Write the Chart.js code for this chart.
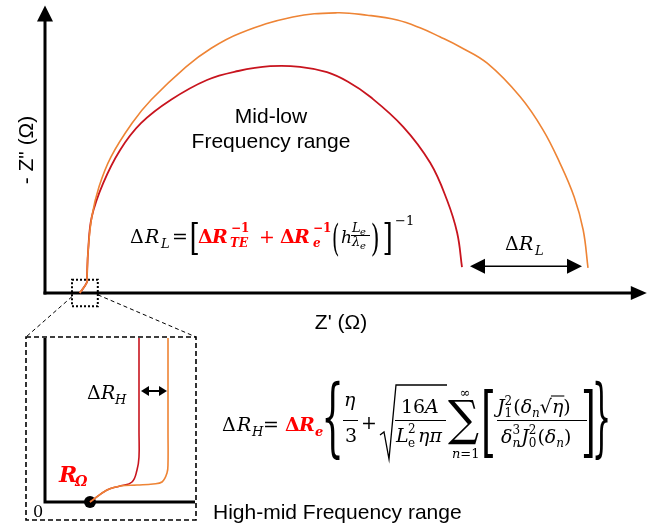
<!DOCTYPE html>
<html><head><meta charset="utf-8">
<script src="https://cdn.jsdelivr.net/npm/chart.js@4/dist/chart.umd.min.js"></script>
<style>html,body{margin:0;padding:0;background:#fff;overflow:hidden}canvas{display:block}</style>
</head><body>
<canvas id="c" width="661" height="527"></canvas>
<script>
// ---- Main Nyquist view (arbitrary Ω units): Z' and -Z'' ----
const redZre    = [5.8, 7.0, 7.0, 7.2, 7.8, 9.7, 12.5, 16.0, 21.0, 27.0, 32.2, 37.5, 42.5, 47.0, 50.5, 54.2, 59.7, 64.2, 67.0, 68.7, 69.5];
const redZim    = [0.0, 1.8, 2.7, 7.2, 12.7, 18.3, 23.8, 28.3, 32.2, 35.5, 37.0, 37.8, 37.7, 36.8, 35.2, 32.7, 27.7, 21.7, 15.5, 10.0, 4.3];
const orangeZre = [5.8, 7.0, 7.0, 7.2, 7.8, 9.0, 11.0, 14.5, 17.7, 23.5, 27.7, 32.5, 41.3, 48.7, 53.7, 58.7, 62.5, 65.8, 69.2, 73.7, 79.2, 83.0, 85.8, 88.2, 89.7, 90.5];
const orangeZim = [0.0, 1.8, 2.7, 7.2, 12.7, 17.7, 22.7, 28.3, 32.2, 37.7, 40.8, 43.3, 46.0, 46.7, 46.3, 45.5, 44.2, 42.7, 41.0, 38.3, 32.7, 27.2, 21.7, 16.0, 10.5, 4.2];
// ---- Inset: high-mid frequency zoom ----
const insetRedZre    = [9.0, 12.4, 15.0, 17.4, 18.4, 18.8, 18.8, 18.8];
const insetRedZim    = [0.0, 2.4, 3.2, 4.0, 6.4, 9.0, 14.0, 32.8];
const insetOrangeZre = [9.0, 12.4, 15.0, 18.4, 21.6, 23.4, 24.4, 24.6, 24.6, 24.6];
const insetOrangeZim = [0.0, 2.4, 3.2, 3.4, 3.6, 4.0, 5.8, 7.8, 14.0, 32.8];
const rOhmZre = [9.0];
const rOhmZim = [0.0];
// ---- Text ----
const axisTitleX = "Z' (Ω)";
const axisTitleY = '- Z" (Ω)';
const regionLow  = ['Mid-low', 'Frequency range'];
const regionHigh = 'High-mid Frequency range';

// ---- layout ----
const W = 661, H = 527;
const MAIN_O = {px: 45, py: 293}, MAIN_K = 6;
const INS_O = {px: 45, py: 502}, INS_K = 5;
const MAIN_X_END = 100.3, MAIN_Y_END = 47.9;
const INS_X_END = 30, INS_Y_END = 32.8;
const RED = '#C8141E', ORANGE = '#EE8435', TRED = '#FF0000';
const SERIF = '"DejaVu Serif"';
const SANS = '"Liberation Sans", Arial, sans-serif';

const pts = (xs, ys) => xs.map((x, i) => ({x, y: ys[i]}));

function head(ctx, tx, ty, dx, dy, len, half) {
  const nx = -dy, ny = dx;
  ctx.beginPath();
  ctx.moveTo(tx, ty);
  ctx.lineTo(tx - dx*len + nx*half, ty - dy*len + ny*half);
  ctx.lineTo(tx - dx*len - nx*half, ty - dy*len - ny*half);
  ctx.closePath(); ctx.fill();
}
function dblArrow(ctx, x0, x1, y, len, half, lw) {
  ctx.save(); ctx.fillStyle = '#000'; ctx.strokeStyle = '#000'; ctx.lineWidth = lw;
  ctx.beginPath(); ctx.moveTo(x0 + len*0.8, y); ctx.lineTo(x1 - len*0.8, y); ctx.stroke();
  head(ctx, x0, y, -1, 0, len, half); head(ctx, x1, y, 1, 0, len, half);
  ctx.restore();
}
function T(ctx, s, x, y, font, color, align) {
  ctx.font = font; ctx.fillStyle = color || '#000'; ctx.textAlign = align || 'left';
  ctx.textBaseline = 'alphabetic'; ctx.fillText(s, x, y);
  return x + ctx.measureText(s).width;
}
// fit a glyph's ink box into a rectangle (for large delimiters)
function F(ctx, s, x0, y0, x1, y1, font, color) {
  ctx.save(); ctx.font = font; ctx.textAlign = 'left'; ctx.textBaseline = 'alphabetic';
  const m = ctx.measureText(s);
  const w = m.actualBoundingBoxLeft + m.actualBoundingBoxRight;
  const h = m.actualBoundingBoxAscent + m.actualBoundingBoxDescent;
  ctx.translate(x0, y0); ctx.scale((x1 - x0)/w, (y1 - y0)/h);
  ctx.fillStyle = color || '#000';
  ctx.fillText(s, m.actualBoundingBoxLeft, m.actualBoundingBoxAscent);
  ctx.restore();
}
function hline(ctx, x0, x1, y, lw) {
  ctx.save(); ctx.strokeStyle = '#000'; ctx.lineWidth = lw || 1;
  ctx.beginPath(); ctx.moveTo(x0, y); ctx.lineTo(x1, y); ctx.stroke(); ctx.restore();
}

const R19 = '19px ' + SERIF, I19 = 'italic 19px ' + SERIF;
const B19 = 'bold 19px ' + SERIF, BI19 = 'bold italic 19px ' + SERIF;
const R12 = '12px ' + SERIF, I12 = 'italic 12px ' + SERIF, I13 = 'italic 13px ' + SERIF;

const diagram = {
  id: 'diagram',
  beforeDatasetsDraw(chart) {
    const ctx = chart.ctx, s = chart.scales;
    ctx.save();
    ctx.fillStyle = '#000'; ctx.strokeStyle = '#000'; ctx.lineWidth = 3;
    // main axes
    const ox = s.x.getPixelForValue(0), oy = s.y.getPixelForValue(0);
    const xe = s.x.getPixelForValue(MAIN_X_END), ye = s.y.getPixelForValue(MAIN_Y_END);
    ctx.beginPath(); ctx.moveTo(ox, oy + 1.5); ctx.lineTo(ox, ye + 12); ctx.stroke();
    ctx.beginPath(); ctx.moveTo(ox - 1.5, oy); ctx.lineTo(xe - 12, oy); ctx.stroke();
    head(ctx, ox, ye, 0, -1, 16, 8);
    head(ctx, xe, oy, 1, 0, 16, 7);
    // inset axes
    const ix = s.x2.getPixelForValue(0), iy = s.y2.getPixelForValue(0);
    const ixe = s.x2.getPixelForValue(INS_X_END), iye = s.y2.getPixelForValue(INS_Y_END);
    ctx.beginPath(); ctx.moveTo(ix, iye); ctx.lineTo(ix, iy); ctx.lineTo(ixe, iy); ctx.stroke();
    // zoom box on main
    ctx.lineWidth = 2; ctx.setLineDash([2, 2]);
    const bx0 = s.x.getPixelForValue(4.5), bx1 = s.x.getPixelForValue(8.8);
    const by0 = s.y.getPixelForValue(2.2), by1 = s.y.getPixelForValue(-2.2);
    ctx.strokeRect(bx0, by0, bx1 - bx0, by1 - by0);
    // inset frame
    ctx.lineWidth = 1.6; ctx.setLineDash([5, 3]);
    const fx0 = s.x2.getPixelForValue(-3.8), fx1 = s.x2.getPixelForValue(30.2);
    const fy0 = s.y2.getPixelForValue(33.0), fy1 = s.y2.getPixelForValue(-3.6);
    ctx.strokeRect(fx0, fy0, fx1 - fx0, fy1 - fy0);
    // connectors
    ctx.lineWidth = 1; ctx.setLineDash([4, 3]);
    ctx.beginPath(); ctx.moveTo(bx0, s.y.getPixelForValue(-0.6)); ctx.lineTo(fx0, fy0); ctx.stroke();
    ctx.beginPath(); ctx.moveTo(bx1, s.y.getPixelForValue(-0.3)); ctx.lineTo(fx1, fy0); ctx.stroke();
    ctx.restore();
  },
  afterDatasetsDraw(chart) {
    const ctx = chart.ctx, s = chart.scales;
    ctx.save();
    // axis titles
    T(ctx, axisTitleX, 341, 329, '21px ' + SANS, '#000', 'center');
    ctx.save(); ctx.translate(27, 150); ctx.rotate(-Math.PI/2);
    ctx.font = '21px ' + SANS; ctx.fillStyle = '#000'; ctx.textAlign = 'center'; ctx.textBaseline = 'middle';
    ctx.fillText(axisTitleY, 0, 0); ctx.restore();
    // region labels
    T(ctx, regionLow[0], 271, 123, '21px ' + SANS, '#000', 'center');
    T(ctx, regionLow[1], 271, 148, '21px ' + SANS, '#000', 'center');
    T(ctx, regionHigh, 213, 519, '21px ' + SANS, '#000', 'left');
    // inset labels
    T(ctx, '0', 33, 517, '16px ' + SERIF);
    T(ctx, 'R', 59, 482, 'bold italic 22px ' + SERIF, TRED);
    T(ctx, 'Ω', 75, 486, 'bold italic 14px ' + SERIF, TRED);
    T(ctx, 'Δ', 87, 399, R19); T(ctx, 'R', 101, 399, I19); T(ctx, 'H', 115, 404, I13);
    // ΔR_H arrow
    const ay = s.y2.getPixelForValue(22.2);
    dblArrow(ctx, s.x2.getPixelForValue(insetRedZre[insetRedZre.length-1]) + 2,
                  s.x2.getPixelForValue(insetOrangeZre[insetOrangeZre.length-1]) - 1, ay, 8, 5, 2);
    // ΔR_L arrow
    const ly = s.y.getPixelForValue(redZim[redZim.length-1]) - 1;
    dblArrow(ctx, s.x.getPixelForValue(redZre[redZre.length-1]) + 8,
                  s.x.getPixelForValue(orangeZre[orangeZre.length-1]) - 6, ly, 15, 7.5, 1.5);
    T(ctx, 'Δ', 505, 250, R19); T(ctx, 'R', 519, 250, I19); T(ctx, 'L', 535, 255, I13);

    // ---- ΔR_L formula ----
    let b = 243;
    T(ctx, 'Δ', 130, b, R19); T(ctx, 'R', 145, b, I19); T(ctx, 'L', 161, b + 5, I13);
    T(ctx, '=', 172, b, R19);
    F(ctx, '[', 191, 222, 198, 256, R19);
    T(ctx, 'Δ', 198, b, B19, TRED); T(ctx, 'R', 212, b, BI19, TRED);
    T(ctx, '−1', 231, b - 11, 'bold 12px ' + SERIF, TRED); T(ctx, 'TE', 230, b + 4, 'bold italic 12px ' + SERIF, TRED);
    T(ctx, '+', 259, b, R19, TRED);
    T(ctx, 'Δ', 280, b, B19, TRED); T(ctx, 'R', 294, b, BI19, TRED);
    T(ctx, '−1', 313, b - 11, 'bold 12px ' + SERIF, TRED); T(ctx, 'e', 313, b + 4, 'bold italic 12px ' + SERIF, TRED);
    F(ctx, '(', 333, 222, 339, 257, R19);
    T(ctx, 'h', 341, b, 'italic 17px ' + SERIF);
    T(ctx, 'L', 352, 232, 'italic 13px ' + SERIF); T(ctx, 'e', 360, 235, 'italic 10px ' + SERIF);
    hline(ctx, 351, 370, 235.5, 1);
    T(ctx, 'λ', 352, 246, 'italic 13px ' + SERIF); T(ctx, 'e', 360, 249, 'italic 10px ' + SERIF);
    F(ctx, ')', 372, 222, 378, 257, R19);
    F(ctx, ']', 384, 222, 391, 256, R19);
    T(ctx, '−1', 395, 225, '13px ' + SERIF);

    // ---- ΔR_H formula ----
    b = 431;
    T(ctx, 'Δ', 222, b, R19); T(ctx, 'R', 237, b, I19); T(ctx, 'H', 252, b + 5, I13);
    T(ctx, '=', 263, b, R19);
    T(ctx, 'Δ', 285, b, B19, TRED); T(ctx, 'R', 299, b, BI19, TRED); T(ctx, 'e', 315, b + 5, 'bold italic 13px ' + SERIF, TRED);
    F(ctx, '{', 325, 383, 340, 460, R19);
    T(ctx, 'η', 344, 406, I19); hline(ctx, 343, 358, 420.5, 1); T(ctx, '3', 345, 442, R19);
    T(ctx, '+', 361, 429, R19);
    // radical
    ctx.save(); ctx.strokeStyle = '#000'; ctx.lineWidth = 1.3; ctx.lineJoin = 'miter';
    ctx.beginPath(); ctx.moveTo(380, 435); ctx.lineTo(384, 432); ctx.lineTo(389, 459); ctx.lineTo(396, 385); ctx.lineTo(447, 385); ctx.stroke();
    ctx.restore();
    T(ctx, '16', 401, 413, R19); T(ctx, 'A', 425, 413, I19);
    hline(ctx, 395, 446, 420.5, 1);
    T(ctx, 'L', 396, 442, I19); T(ctx, '2', 408, 433, R12); T(ctx, 'e', 408, 447, R12);
    T(ctx, 'ηπ', 418, 442, I19);
    F(ctx, '∑', 448, 399, 480, 445, R19);
    T(ctx, '∞', 465, 397, '13px ' + SERIF, '#000', 'center');
    let x = 452; x = T(ctx, 'n', x, 458, I13); T(ctx, '=1', x, 458, '13px ' + SERIF);
    F(ctx, '[', 483, 392, 493, 460, R19);
    // numerator
    x = 497; b = 413;
    x = T(ctx, 'J', x, b, I19); T(ctx, '2', x, b - 8, R12); x = T(ctx, '1', x, b + 4, R12);
    x = T(ctx, '(', x + 1, b, R19); x = T(ctx, 'δ', x, b, I19); x = T(ctx, 'n', x, b + 4, I12);
    x = T(ctx, '√', x, b, R19); const ex0 = x; x = T(ctx, 'η', x, b, I19); hline(ctx, ex0 - 1, x + 1, 396, 1.1);
    T(ctx, ')', x, b, R19);
    hline(ctx, 497, 587, 420.5, 1);
    // denominator
    x = 501; b = 443;
    x = T(ctx, 'δ', x, b, I19); T(ctx, '3', x, b - 9, R12); x = T(ctx, 'n', x, b + 4, I12);
    x = T(ctx, 'J', x + 1, b, I19); T(ctx, '2', x, b - 9, R12); x = T(ctx, '0', x, b + 4, R12);
    x = T(ctx, '(', x + 1, b, R19); x = T(ctx, 'δ', x, b, I19); x = T(ctx, 'n', x, b + 4, I12);
    T(ctx, ')', x, b, R19);
    F(ctx, ']', 583, 392, 593, 460, R19);
    F(ctx, '}', 595, 383, 608, 460, R19);
    ctx.restore();
  }
};

const lineDs = (data, color, xa, ya, w) => ({
  data, showLine: true, borderColor: color, borderWidth: w, pointRadius: 0,
  tension: 0.4, fill: false, xAxisID: xa, yAxisID: ya
});

new Chart(document.getElementById('c'), {
  type: 'scatter',
  data: {
    datasets: [
      lineDs(pts(orangeZre, orangeZim), ORANGE, 'x', 'y', 1.6),
      lineDs(pts(redZre, redZim), RED, 'x', 'y', 1.8),
      lineDs(pts(insetOrangeZre, insetOrangeZim), ORANGE, 'x2', 'y2', 1.6),
      lineDs(pts(insetRedZre, insetRedZim), RED, 'x2', 'y2', 1.6),
      { data: pts(rOhmZre, rOhmZim), showLine: false, pointRadius: 6, pointBackgroundColor: '#000',
        pointBorderWidth: 0, xAxisID: 'x2', yAxisID: 'y2' }
    ]
  },
  options: {
    responsive: false, animation: false, devicePixelRatio: 1, events: [],
    layout: {padding: 0, autoPadding: false},
    plugins: {legend: {display: false}, tooltip: {enabled: false}},
    scales: {
      x:  {type: 'linear', axis: 'x', display: false, min: -MAIN_O.px/MAIN_K, max: (W - MAIN_O.px)/MAIN_K},
      y:  {type: 'linear', axis: 'y', display: false, min: -(H - MAIN_O.py)/MAIN_K, max: MAIN_O.py/MAIN_K},
      x2: {type: 'linear', axis: 'x', display: false, min: -INS_O.px/INS_K, max: (W - INS_O.px)/INS_K},
      y2: {type: 'linear', axis: 'y', display: false, min: -(H - INS_O.py)/INS_K, max: INS_O.py/INS_K}
    }
  },
  plugins: [diagram]
});
</script>
</body></html>
